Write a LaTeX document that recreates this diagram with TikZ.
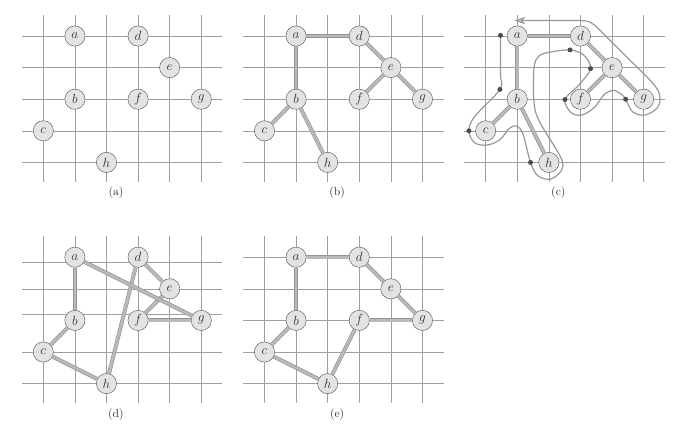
\documentclass[tikz,border=0pt]{standalone}
\usetikzlibrary{arrows.meta}

% grid, the eight cities and the caption of one panel
% #1 = caption letter, #2 = heights of the horizontal rules
\newcommand\tourboard[2]{%
  \foreach \gx in {0,...,5}
    \draw[gridline] (\gx,0.67) -- (\gx,-4.62);
  \foreach \gy in {#2}
    \draw[gridline] (-0.67,\gy) -- (5.67,\gy);
  \node[vtx] (a) at (1,0) {$a$};
  \node[vtx] (d) at (3,0) {$d$};
  \node[vtx] (e) at (4,-1) {$e$};
  \node[vtx] (b) at (1,-2) {$b$};
  \node[vtx] (f) at (3,-2) {$f$};
  \node[vtx] (g) at (5,-2) {$g$};
  \node[vtx] (c) at (0,-3) {$c$};
  \node[vtx] (h) at (2,-4) {$h$};
  \node[caption] (cap) at (2.3,-4.97) {(#1)};
}

\begin{document}
\begin{tikzpicture}[
  gridline/.style={draw=gray!75, line width=0.55pt},
  vtx/.style={circle, draw=gray!70!black, fill=gray!22, minimum size=0.64cm,
    inner sep=0pt, text=black!80, font=\fontsize{12}{14}\selectfont},
  caption/.style={text=black!80, font=\fontsize{10.5}{12}\selectfont},
  tedge/.style={draw=gray!85, double=gray!55, double distance=2.4pt, line width=0.55pt},
  walk/.style={draw=gray!80, line width=1.1pt},
  dot/.style={circle, fill=black!70, inner sep=0pt, minimum size=4.5pt}]
  \useasboundingbox (-1.37,1.14) rectangle (20.15,-12.28);

  % (a) the cities
  \begin{scope}[name prefix=pa-]
    \tourboard{a}{0,-1,-2,-3,-4}
  \end{scope}

  % (b) minimum spanning tree
  \begin{scope}[shift={(7,0)}, name prefix=pb-]
    \tourboard{b}{0,-1,-2,-3,-4}
    \draw[tedge] (a) -- (d);
    \draw[tedge] (a) -- (b);
    \draw[tedge] (d) -- (e);
    \draw[tedge] (e) -- (f);
    \draw[tedge] (e) -- (g);
    \draw[tedge] (b) -- (c);
    \draw[tedge] (b) -- (h);
  \end{scope}

  % (c) full walk of the tree
  \begin{scope}[shift={(14,0)}, name prefix=pc-]
    \tourboard{c}{0,-1,-2,-3,-4}
    \draw[tedge] (a) -- (d);
    \draw[tedge] (a) -- (b);
    \draw[tedge] (d) -- (e);
    \draw[tedge] (e) -- (f);
    \draw[tedge] (e) -- (g);
    \draw[tedge] (b) -- (c);
    \draw[tedge] (b) -- (h);
    \draw[walk, -{Stealth[length=10pt, width=6.5pt, inset=2.5pt, fill=gray!35]}]
      plot[smooth, tension=0.55] coordinates {
        (0.47,0.02) (0.47,-1.2) (0.45,-1.69) (-0.35,-2.55) (-0.53,-3.0)
        (-0.35,-3.38) (0.05,-3.45) (0.45,-3.28) (0.75,-2.92) (0.98,-2.85)
        (1.18,-3.1) (1.42,-4.0) (1.65,-4.42) (2.05,-4.53) (2.4,-4.25)
        (2.38,-3.85) (1.7,-2.7) (1.53,-2.1) (1.53,-1.0) (1.7,-0.62)
        (2.1,-0.5) (2.67,-0.44) (3.1,-0.6) (3.32,-1.03) (2.95,-1.55)
        (2.51,-2.01) (2.7,-2.42) (3.05,-2.5) (3.45,-2.25) (3.75,-1.85)
        (4.05,-1.72) (4.3,-1.85) (4.43,-2.0) (4.65,-2.4) (5.05,-2.5)
        (5.45,-2.25) (5.5,-1.85) (5.25,-1.45) (4.4,-0.6) (3.6,0.2)
        (3.3,0.44) (2.95,0.49) (2.0,0.49) (0.9,0.49)};
    \node[dot] (va) at (0.47,0.02) {};
    \node[dot] (vb) at (0.45,-1.69) {};
    \node[dot] (vc) at (-0.53,-3.0) {};
    \node[dot] (vh) at (1.42,-4.0) {};
    \node[dot] (vd) at (2.67,-0.44) {};
    \node[dot] (ve) at (3.32,-1.03) {};
    \node[dot] (vf) at (2.51,-2.01) {};
    \node[dot] (vg) at (4.43,-2.0) {};
  \end{scope}

  % (d) optimal tour
  \begin{scope}[shift={(0,-7)}, name prefix=pd-]
    \tourboard{d}{-0.17,-1,-1.82,-3,-4}
    \draw[tedge] (a) -- (b);
    \draw[tedge] (b) -- (c);
    \draw[tedge] (c) -- (h);
    \draw[tedge] (h) -- (d);
    \draw[tedge] (d) -- (e);
    \draw[tedge] (e) -- (f);
    \draw[tedge] (f) -- (g);
    \draw[tedge] (g) -- (a);
  \end{scope}

  % (e) tour from the preorder walk
  \begin{scope}[shift={(7,-7)}, name prefix=pe-]
    \tourboard{e}{0,-1,-2,-3,-4}
    \draw[tedge] (a) -- (b);
    \draw[tedge] (b) -- (c);
    \draw[tedge] (c) -- (h);
    \draw[tedge] (h) -- (f);
    \draw[tedge] (f) -- (g);
    \draw[tedge] (g) -- (e);
    \draw[tedge] (e) -- (d);
    \draw[tedge] (d) -- (a);
  \end{scope}
\end{tikzpicture}
\end{document}
